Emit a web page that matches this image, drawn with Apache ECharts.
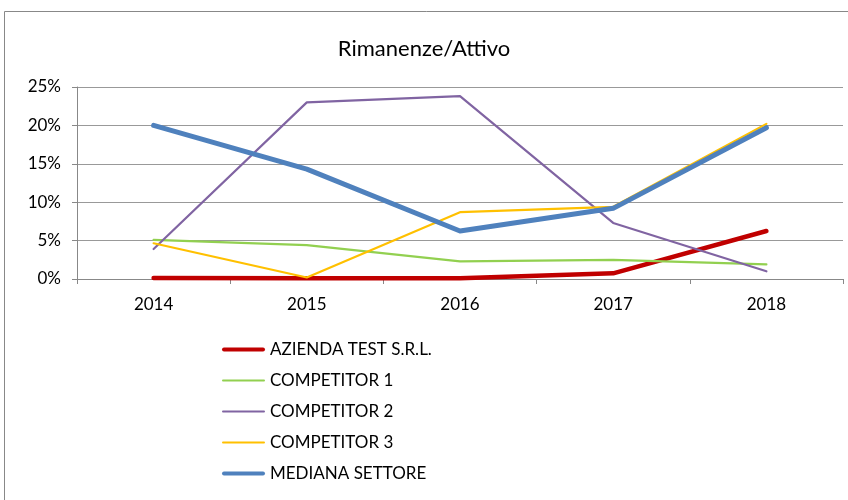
<!DOCTYPE html>
<html><head><meta charset="utf-8">
<script src="https://cdn.jsdelivr.net/npm/echarts@6/dist/echarts.min.js"></script>
<style>html,body{margin:0;padding:0;background:#fff}#c{width:848px;height:500px}</style>
</head><body><div id="c"></div>
<script>
const categories = ['2014','2015','2016','2017','2018'];
const aziendaTest = [0.13, 0.1, 0.1, 0.74, 6.25];
const competitor1 = [5.1, 4.4, 2.3, 2.5, 1.9];
const competitor2 = [3.9, 23.0, 23.8, 7.3, 1.0];
const competitor3 = [4.65, 0.2, 8.7, 9.4, 20.2];
const medianaSettore = [20.0, 14.3, 6.25, 9.2, 19.7];
const yTicks = [0, 5, 10, 15, 20, 25];

const font = 'Lato, "Open Sans", sans-serif';
const thickIcon = 'path://M0,0 M2,5 L41,5 A2,2 0 0 1 41,9 L2,9 A2,2 0 0 1 2,5 Z M43,14';
const thinIcon = 'path://M0,0 M1,6 L42,6 A1,1 0 0 1 42,8 L1,8 A1,1 0 0 1 1,6 Z M43,14';
function ser(name, data, color, width) {
  return { name, type: 'line', data, symbol: 'none', showSymbol: false,
    lineStyle: { color, width, cap: 'round', join: 'round' }, itemStyle: { color }, animation: false };
}
const chart = echarts.init(document.getElementById('c'));
chart.setOption({
  animation: false,
  title: { text: 'Rimanenze/Attivo', left: 'center', top: 33,
    textStyle: { fontFamily: font, fontSize: 22, fontWeight: 'normal', color: '#000' } },
  grid: { left: 77, right: 5, top: 87, bottom: 221, containLabel: false },
  xAxis: { type: 'category', data: categories, boundaryGap: true,
    axisLine: { lineStyle: { color: '#888', width: 1 } },
    axisTick: { show: true, length: 5, lineStyle: { color: '#888' } },
    axisLabel: { fontFamily: font, fontSize: 17, color: '#000', margin: 17 } },
  yAxis: { type: 'value', min: yTicks[0], max: yTicks[yTicks.length-1], interval: 5,
    axisLine: { show: true, lineStyle: { color: '#888' } },
    axisTick: { show: true, length: 5, lineStyle: { color: '#888' } },
    splitLine: { lineStyle: { color: '#999', width: 1 } },
    axisLabel: { fontFamily: font, fontSize: 17, color: '#000', margin: 16, formatter: v => v + '%' } },
  legend: { orient: 'vertical', left: 217, top: 336, itemWidth: 43, itemHeight: 14, itemGap: 14,
    textStyle: { fontFamily: font, fontSize: 17, color: '#000' },
    data: [
      { name: 'AZIENDA TEST S.R.L.', icon: thickIcon },
      { name: 'COMPETITOR 1', icon: thinIcon },
      { name: 'COMPETITOR 2', icon: thinIcon },
      { name: 'COMPETITOR 3', icon: thinIcon },
      { name: 'MEDIANA SETTORE', icon: thickIcon }
    ] },
  graphic: [{ type: 'rect', shape: { x: 4.5, y: 11.5, width: 900, height: 600 },
    style: { fill: 'none', stroke: '#888', lineWidth: 1 }, silent: true }],
  series: [
    ser('AZIENDA TEST S.R.L.', aziendaTest, '#c00000', 4.5),
    ser('COMPETITOR 1', competitor1, '#92d050', 2.2),
    ser('COMPETITOR 2', competitor2, '#8064a2', 2.2),
    ser('COMPETITOR 3', competitor3, '#ffc000', 2.2),
    ser('MEDIANA SETTORE', medianaSettore, '#4f81bd', 5)
  ]
});
</script></body></html>
